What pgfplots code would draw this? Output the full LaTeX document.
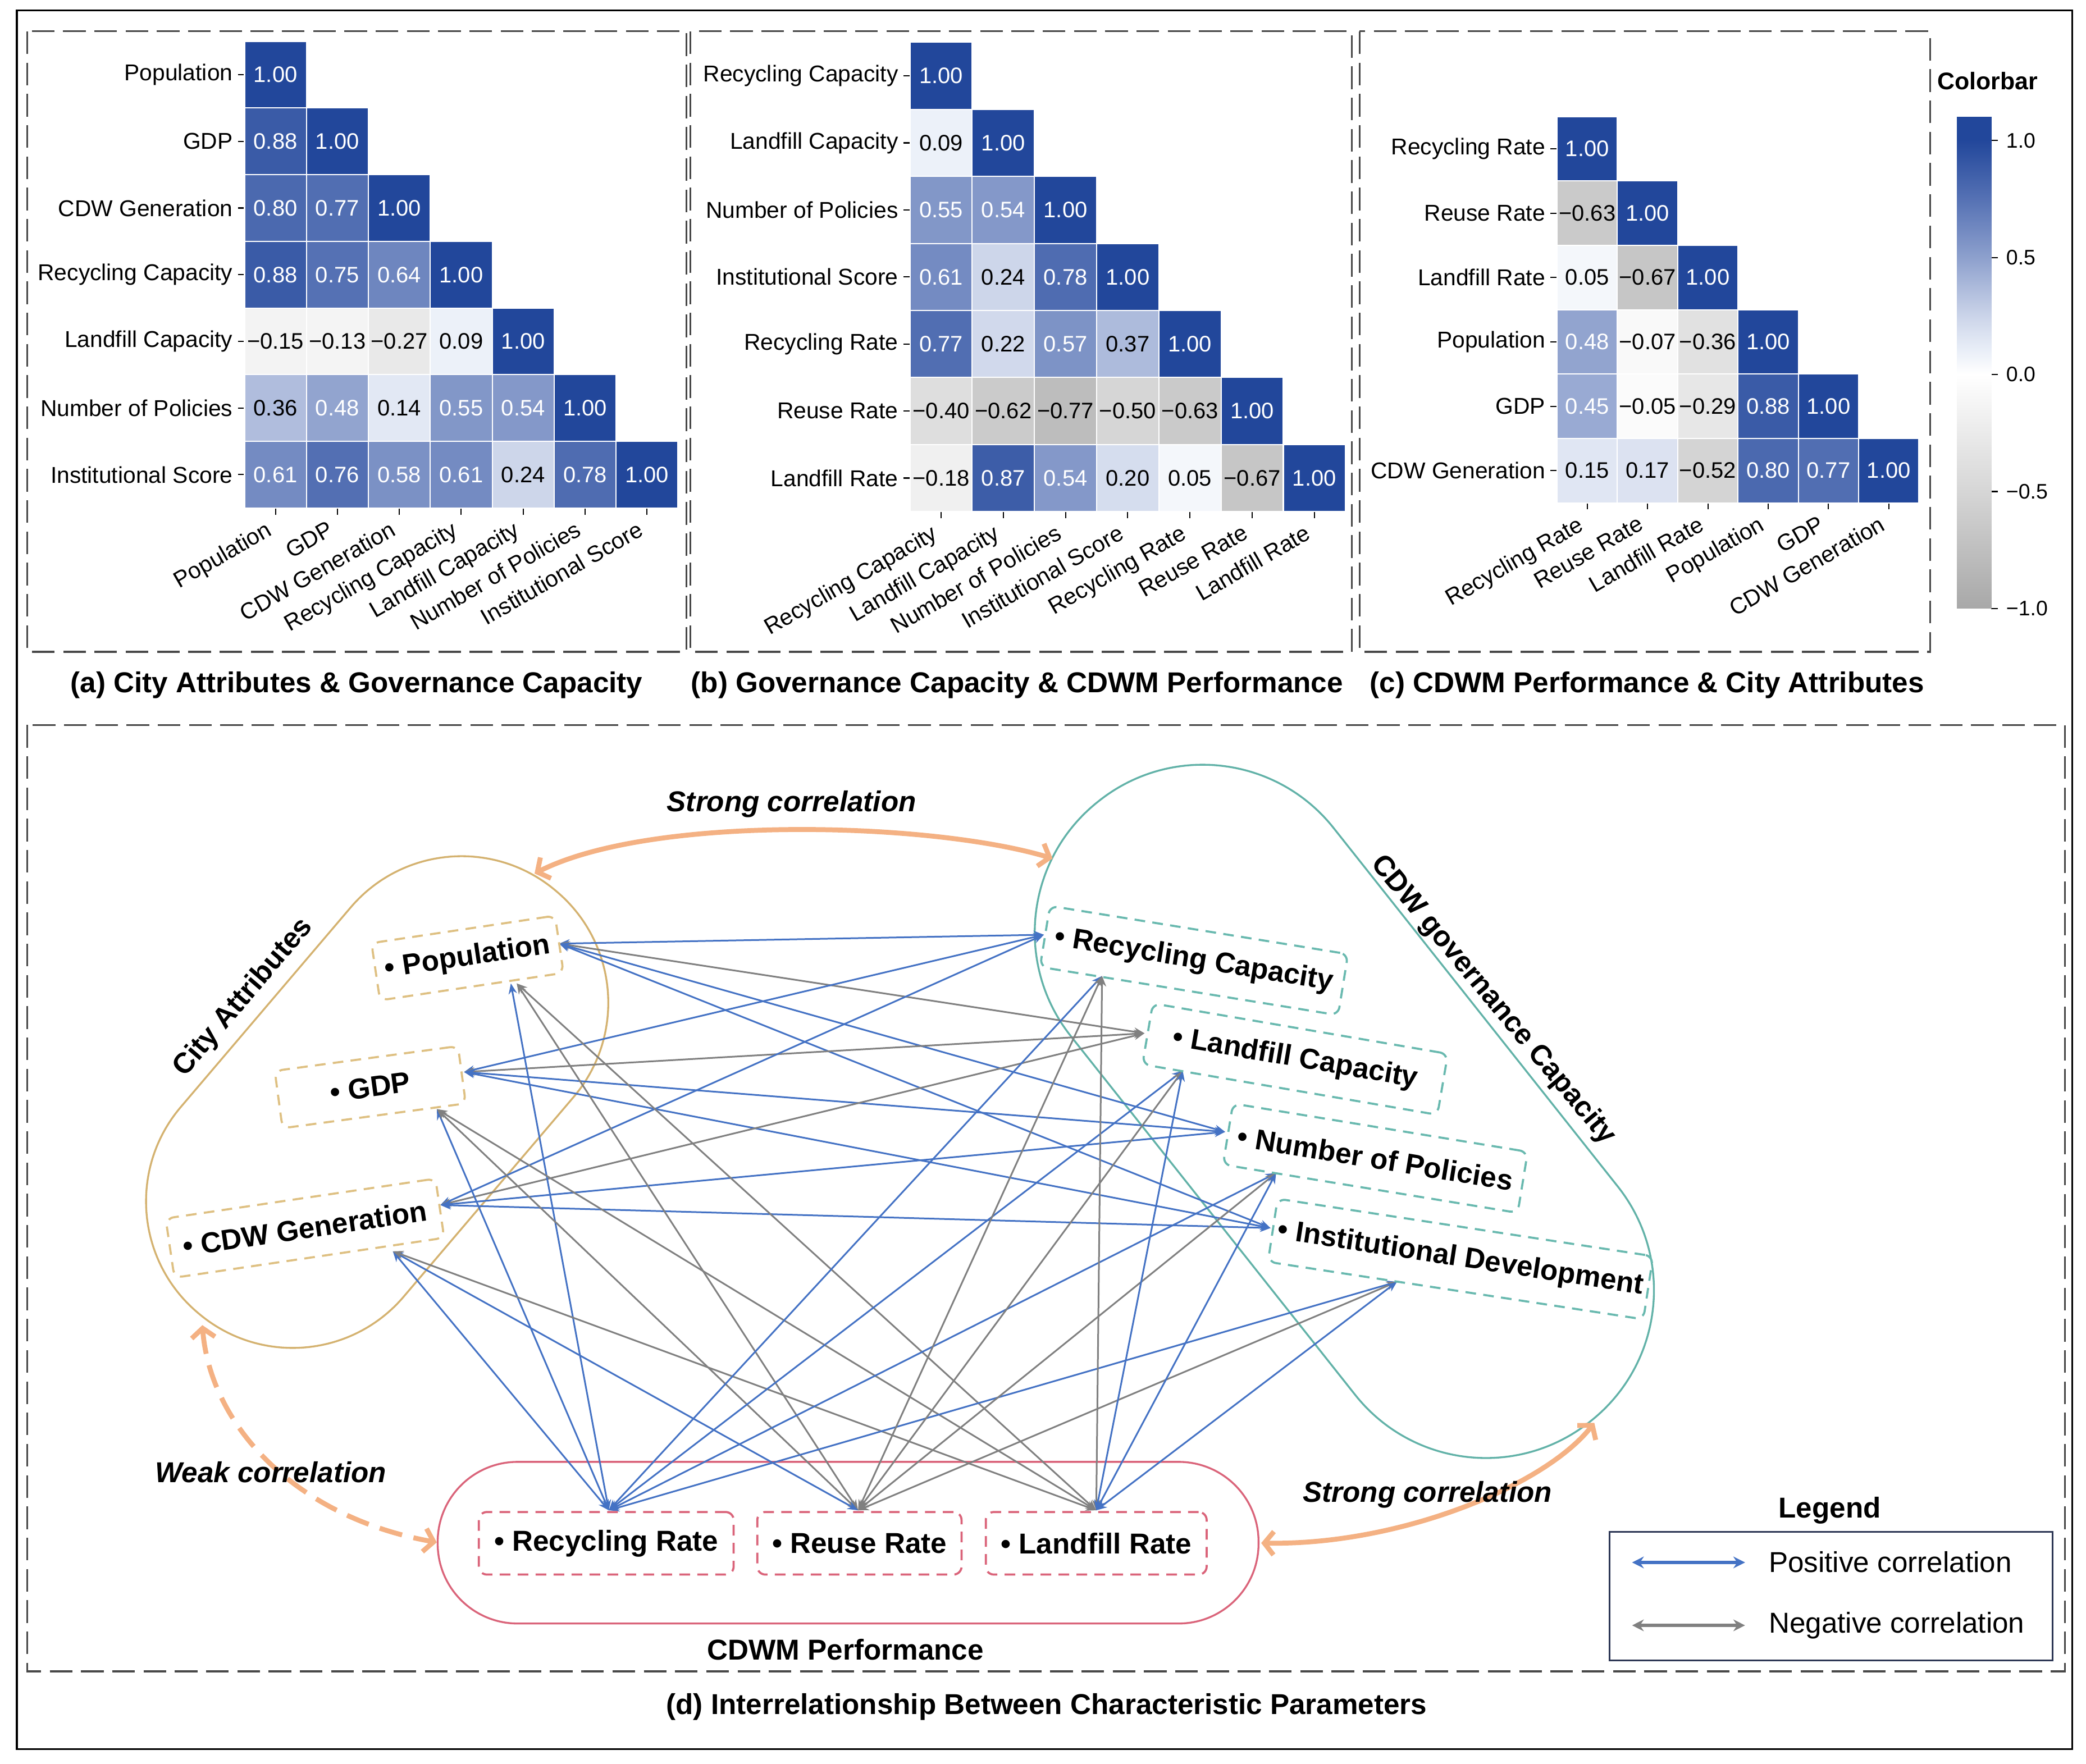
\documentclass[border=0pt]{standalone}
\usepackage{pgfplots}
\pgfplotsset{compat=1.18}
\usepackage{pgfplotstable}
\usepackage{fontspec}
\setmainfont{Liberation Sans}
\usetikzlibrary{arrows.meta}

\definecolor{tanc}{RGB}{212,178,112}
\definecolor{tanbox}{RGB}{222,192,130}
\definecolor{tealc}{RGB}{98,178,168}
\definecolor{tealbox}{RGB}{105,185,175}
\definecolor{redc}{RGB}{218,100,122}
\definecolor{orc}{RGB}{244,177,131}
\definecolor{posc}{RGB}{68,114,196}
\definecolor{negc}{RGB}{128,128,128}
\definecolor{framec}{RGB}{72,72,72}
\definecolor{legc}{RGB}{45,55,85}

\newcommand\bigf{\fontsize{12.3}{14}\selectfont}
% text of one heatmap cell (meta is the raw table string): white on dark cells, true minus sign
\newcommand\celltext{\ifdim\pgfplotspointmeta pt>0.4pt\color{white}\fi\ifdim\pgfplotspointmeta pt<0pt−\fi\pgfmathparse{abs(\pgfplotspointmeta)}\pgfmathprintnumber[fixed,fixed zerofill,precision=2,assume math mode=true]{\pgfmathresult}}

% cell shapes, one per heatmap
\pgfdeclareplotmark{cella}{\pgfpathrectangle{\pgfpoint{-0.4654cm}{-0.5011cm}}{\pgfpoint{0.9308cm}{1.0022cm}}\pgfusepathqfillstroke}
\pgfdeclareplotmark{cellb}{\pgfpathrectangle{\pgfpoint{-0.4677cm}{-0.5040cm}}{\pgfpoint{0.9354cm}{1.0080cm}}\pgfusepathqfillstroke}
\pgfdeclareplotmark{cellc}{\pgfpathrectangle{\pgfpoint{-0.4533cm}{-0.4840cm}}{\pgfpoint{0.9066cm}{0.9680cm}}\pgfusepathqfillstroke}

\tikzset{
  lnk/.style={line width=0.72pt, >={Stealth[length=4.5pt,width=3.6pt]}, <->},
  orarr/.style={orc, line width=2.1pt, >={Straight Barb[length=4pt,width=10pt]}, <->},
  frm/.style={framec, line width=0.75pt, dash pattern=on 0.34cm off 0.13cm},
  tbox/.style={draw=tanbox, line width=0.9pt, dash pattern=on 0.16cm off 0.11cm, rounded corners=0.12cm, inner sep=0pt, font=\bfseries\bigf, text=black},
  gbox/.style={tbox, draw=tealbox},
  rbox/.style={tbox, draw=redc},
}

\pgfplotsset{
  colormap={corr}{rgb255(0pt)=(168,168,168); rgb255(50pt)=(214,214,214); rgb255(100pt)=(255,255,255); rgb255(110pt)=(234,239,248); rgb255(125pt)=(203,212,233); rgb255(150pt)=(141,160,205); rgb255(175pt)=(85,113,180); rgb255(200pt)=(34,71,155); rgb255(210pt)=(34,71,155)},
  hm/.style={
    scale only axis, anchor=south west, y dir=reverse,
    xmin=-0.5, ymin=-0.5, enlargelimits=false,
    axis line style={draw=none}, tick pos=left, tick align=outside,
    major tick length=0.1cm, tick style={black, line width=0.5pt},
    tick label style={font=\fontsize{9.8}{11}\selectfont},
    xticklabel style={xshift=-0.14cm, rotate=30, anchor=north east, inner sep=1.5pt},
    yticklabel style={inner sep=2pt},
    colormap name=corr, point meta min=-1, point meta max=1.1,
    clip=false,
  },
  hmcells/.style={scatter, only marks, point meta=explicit,
    scatter/use mapped color={draw=white, fill=mapped color}, mark options={line width=0.5pt}},
  hmtext/.style={only marks, mark=none, point meta=explicit symbolic,
    nodes near coords=\celltext, nodes near coords align=center,
    every node near coord/.append style={font=\fontsize{9.6}{11}\selectfont, text=black, inner sep=0pt}},
}

% (a) city attributes & governance capacity
\pgfplotstableread{
x y c
0 0 1.00
0 1 0.88
1 1 1.00
0 2 0.80
1 2 0.77
2 2 1.00
0 3 0.88
1 3 0.75
2 3 0.64
3 3 1.00
0 4 -0.15
1 4 -0.13
2 4 -0.27
3 4 0.09
4 4 1.00
0 5 0.36
1 5 0.48
2 5 0.14
3 5 0.55
4 5 0.54
5 5 1.00
0 6 0.61
1 6 0.76
2 6 0.58
3 6 0.61
4 6 0.24
5 6 0.78
6 6 1.00
}\tA

% (b) governance capacity & CDWM performance
\pgfplotstableread{
x y c
0 0 1.00
0 1 0.09
1 1 1.00
0 2 0.55
1 2 0.54
2 2 1.00
0 3 0.61
1 3 0.24
2 3 0.78
3 3 1.00
0 4 0.77
1 4 0.22
2 4 0.57
3 4 0.37
4 4 1.00
0 5 -0.40
1 5 -0.62
2 5 -0.77
3 5 -0.50
4 5 -0.63
5 5 1.00
0 6 -0.18
1 6 0.87
2 6 0.54
3 6 0.20
4 6 0.05
5 6 -0.67
6 6 1.00
}\tB

% (c) CDWM performance & city attributes
\pgfplotstableread{
x y c
0 0 1.00
0 1 -0.63
1 1 1.00
0 2 0.05
1 2 -0.67
2 2 1.00
0 3 0.48
1 3 -0.07
2 3 -0.36
3 3 1.00
0 4 0.45
1 4 -0.05
2 4 -0.29
3 4 0.88
4 4 1.00
0 5 0.15
1 5 0.17
2 5 -0.52
3 5 0.80
4 5 0.77
5 5 1.00
}\tC

\begin{document}
\begin{tikzpicture}
\path[use as bounding box] (0,0) rectangle (31.36cm,26.52cm);

% (a)
\begin{axis}[hm, at={(3.676cm,18.882cm)}, width=6.516cm, height=7.016cm,
  xmax=6.5, ymax=6.5, xtick={0,...,6}, ytick={0,...,6},
  xticklabels={Population,GDP,CDW Generation,Recycling Capacity,Landfill Capacity,Number of Policies,Institutional Score},
  yticklabels={Population,GDP,CDW Generation,Recycling Capacity,Landfill Capacity,Number of Policies,Institutional Score}]
\addplot[hmcells, mark=cella] table[x=x, y=y, meta=c] {\tA};
\addplot[hmtext] table[x=x, y=y, meta=c] {\tA};
\end{axis}

% (b)
\begin{axis}[hm, at={(13.68cm,18.828cm)}, width=6.548cm, height=7.056cm,
  xmax=6.5, ymax=6.5, xtick={0,...,6}, ytick={0,...,6},
  xticklabels={Recycling Capacity,Landfill Capacity,Number of Policies,Institutional Score,Recycling Rate,Reuse Rate,Landfill Rate},
  yticklabels={Recycling Capacity,Landfill Capacity,Number of Policies,Institutional Score,Recycling Rate,Reuse Rate,Landfill Rate}]
\addplot[hmcells, mark=cellb] table[x=x, y=y, meta=c] {\tB};
\addplot[hmtext] table[x=x, y=y, meta=c] {\tB};
\end{axis}

% (c)
\begin{axis}[hm, at={(23.408cm,18.96cm)}, width=5.44cm, height=5.808cm,
  xmax=5.5, ymax=5.5, xtick={0,...,5}, ytick={0,...,5},
  xticklabels={Recycling Rate,Reuse Rate,Landfill Rate,Population,GDP,CDW Generation},
  yticklabels={Recycling Rate,Reuse Rate,Landfill Rate,Population,GDP,CDW Generation}]
\addplot[hmcells, mark=cellc] table[x=x, y=y, meta=c] {\tC};
\addplot[hmtext] table[x=x, y=y, meta=c] {\tC};
\end{axis}

% colorbar
\begin{axis}[scale only axis, anchor=south west, at={(29.416cm,17.37cm)},
  width=0.52cm, height=7.39cm, xmin=0, xmax=1, ymin=-1, ymax=1.1,
  enlargelimits=false, axis line style={draw=none}, xtick=\empty,
  ytick={-1,-0.5,0,0.5,1}, yticklabels={−1.0,−0.5,0.0,0.5,1.0},
  ytick pos=right, yticklabel pos=right, tick align=outside,
  major tick length=0.1cm, tick style={black, line width=0.5pt},
  tick label style={font=\fontsize{9}{11}\selectfont},
  colormap name=corr, point meta min=-1, point meta max=1.1]
\addplot[surf, shader=interp, point meta=y, mesh/rows=2] coordinates {(0,-1) (1,-1)

(0,1.1) (1,1.1)};
\end{axis}

% overlay axis in reference pixel units (y down)
\begin{axis}[at={(0,0)}, anchor=south west, scale only axis,
  width=31.36cm, height=26.52cm, xmin=0, xmax=1568, ymin=0, ymax=1326,
  y dir=reverse, hide axis, clip=false]

% frames
\draw[black, line width=0.8pt] (12.7,7.7) rectangle (1557.5,1315);
\draw[frm] (20.4,23.6) rectangle (516,490);
\draw[frm] (519,23.6) rectangle (1016,490);
\draw[frm] (1022,23.6) rectangle (1450.7,490);
\draw[frm] (20.4,545) rectangle (1552,1256.5);

% captions
\node[font=\bfseries\bigf] at (268,515) {(a) City Attributes \& Governance Capacity};
\node[font=\bfseries\bigf] at (764.5,515) {(b) Governance Capacity \& CDWM Performance};
\node[font=\bfseries\bigf] at (1238,515) {(c) CDWM Performance \& City Attributes};
\node[font=\bfseries\bigf] at (786.7,1283) {(d) Interrelationship Between Characteristic Parameters};
\node[font=\bfseries\fontsize{10.3}{12}\selectfont] at (1494,60.7) {Colorbar};

% group outlines
\node[draw=tanc, line width=0.8pt, rounded corners=2.19cm, minimum width=8.32cm, minimum height=4.4cm, rotate=49.6, inner sep=0pt] at (283.5,828.5) {};
\node[draw=tealc, line width=0.8pt, rounded corners=2.51cm, minimum width=11.9cm, minimum height=5.04cm, rotate=-51.6, inner sep=0pt] at (1010.5,835.5) {};
\draw[redc, line width=0.8pt, rounded corners=1.2cm] (329,1099) rectangle (946,1220.5);

% city attributes -> governance capacity
\addplot[posc, lnk] coordinates {(420.3,709.4) (784.7,702.7)};
\addplot[negc, lnk] coordinates {(420.3,709.4) (860.3,776.8)};
\addplot[posc, lnk] coordinates {(420.3,709.4) (920.9,850.9)};
\addplot[posc, lnk] coordinates {(420.3,709.4) (955,923.2)};
\addplot[posc, lnk] coordinates {(348.8,805.9) (784.7,702.7)};
\addplot[negc, lnk] coordinates {(348.8,805.9) (860.3,776.8)};
\addplot[posc, lnk] coordinates {(348.8,805.9) (920.9,850.9)};
\addplot[posc, lnk] coordinates {(348.8,805.9) (955,923.2)};
\addplot[posc, lnk] coordinates {(331,905.9) (784.7,702.7)};
\addplot[negc, lnk] coordinates {(331,905.9) (860.3,776.8)};
\addplot[posc, lnk] coordinates {(331,905.9) (920.9,850.9)};
\addplot[posc, lnk] coordinates {(331,905.9) (955,923.2)};
% city attributes -> performance
\addplot[posc, lnk] coordinates {(384,739.3) (457.6,1135.4)};
\addplot[negc, lnk] coordinates {(388.4,739.3) (645,1135.4)};
\addplot[negc, lnk] coordinates {(388.4,739.3) (824,1135.4)};
\addplot[posc, lnk] coordinates {(328.4,833.8) (457.6,1135.4)};
\addplot[negc, lnk] coordinates {(328.4,833.8) (645,1135.4)};
\addplot[negc, lnk] coordinates {(328.4,833.8) (824,1135.4)};
\addplot[posc, lnk] coordinates {(295.3,940.7) (457.6,1135.4)};
\addplot[posc, lnk] coordinates {(295.3,940.7) (645,1135.4)};
\addplot[negc, lnk] coordinates {(295.3,940.7) (824,1135.4)};
% performance -> governance capacity
\addplot[posc, lnk] coordinates {(457.6,1135.4) (828.4,733.7)};
\addplot[posc, lnk] coordinates {(457.6,1135.4) (889,805)};
\addplot[posc, lnk] coordinates {(457.6,1135.4) (959.2,881.9)};
\addplot[posc, lnk] coordinates {(457.6,1135.4) (1050.1,963.6)};
\addplot[negc, lnk] coordinates {(645,1135.4) (828.4,733.7)};
\addplot[negc, lnk] coordinates {(645,1135.4) (889,805)};
\addplot[negc, lnk] coordinates {(645,1135.4) (959.2,881.9)};
\addplot[negc, lnk] coordinates {(645,1135.4) (1050.1,963.6)};
\addplot[negc, lnk] coordinates {(824,1135.4) (828.4,733.7)};
\addplot[posc, lnk] coordinates {(824,1135.4) (889,805)};
\addplot[posc, lnk] coordinates {(824,1135.4) (959.2,881.9)};
\addplot[posc, lnk] coordinates {(824,1135.4) (1050.1,963.6)};

% parameter boxes
\node[tbox, minimum width=2.79cm, minimum height=0.87cm, rotate=8.5] at (351.4,720.2) {• Population};
\node[tbox, minimum width=2.78cm, minimum height=0.87cm, rotate=7.7] at (278.3,817.3) {• GDP};
\node[tbox, minimum width=4.10cm, minimum height=0.90cm, rotate=8.4] at (229.2,923.3) {• CDW Generation};
\node[gbox, minimum width=4.54cm, minimum height=0.93cm, rotate=-9.2] at (897.5,722.1) {• Recycling Capacity};
\node[gbox, minimum width=4.50cm, minimum height=0.93cm, rotate=-9.7] at (973.5,796.2) {• Landfill Capacity};
\node[gbox, minimum width=4.49cm, minimum height=0.93cm, rotate=-9.3] at (1033.8,870.7) {• Number of Policies};
\node[gbox, minimum width=5.71cm, minimum height=0.96cm, rotate=-8.7] at (1097.8,946.5) {• Institutional Development};
\node[rbox, minimum width=3.83cm, minimum height=0.94cm] at (455.7,1160.2) {• Recycling Rate};
\node[rbox, minimum width=3.07cm, minimum height=0.94cm] at (646,1160.2) {• Reuse Rate};
\node[rbox, minimum width=3.32cm, minimum height=0.94cm] at (824,1160.2) {• Landfill Rate};

% group labels
\node[font=\bfseries\bigf, rotate=49.5] at (183,750) {City Attributes};
\node[font=\bfseries\bigf, rotate=-50.3] at (1122,752) {CDW governance Capacity};
\node[font=\bfseries\bigf] at (635.5,1240.3) {CDWM Performance};

% correlation arrows between groups
\draw[orarr] (401.8,656.7) .. controls (490,612) and (700,618) .. (791.2,645.4);
\draw[orarr, dash pattern=on 10pt off 5pt] (152.1,996.2) .. controls (158,1070) and (220,1140) .. (328.3,1159.5);
\draw[orarr] (948,1160) .. controls (1050,1162) and (1160,1118) .. (1198.4,1069.7);
\node[font=\bfseries\itshape\bigf] at (595,604.6) {Strong correlation};
\node[font=\bfseries\itshape\bigf] at (203.5,1106.7) {Weak correlation};
\node[font=\bfseries\itshape\bigf] at (1073,1123.5) {Strong correlation};

% legend
\node[font=\bfseries\bigf] at (1375.4,1135.5) {Legend};
\draw[legc, line width=0.7pt] (1210,1151.7) rectangle (1543,1248.1);
\addplot[posc, line width=1.3pt, >={Stealth[length=5pt,width=5pt]}, <->] coordinates {(1226.8,1174.6) (1311.7,1174.6)};
\addplot[negc, line width=1.3pt, >={Stealth[length=5pt,width=5pt]}, <->] coordinates {(1226.8,1221.9) (1311.7,1221.9)};
\node[font=\bigf, anchor=west, inner sep=0pt] at (1329.2,1174.4) {Positive correlation};
\node[font=\bigf, anchor=west, inner sep=0pt] at (1329.2,1221.9) {Negative correlation};
\end{axis}
\end{tikzpicture}
\end{document}
